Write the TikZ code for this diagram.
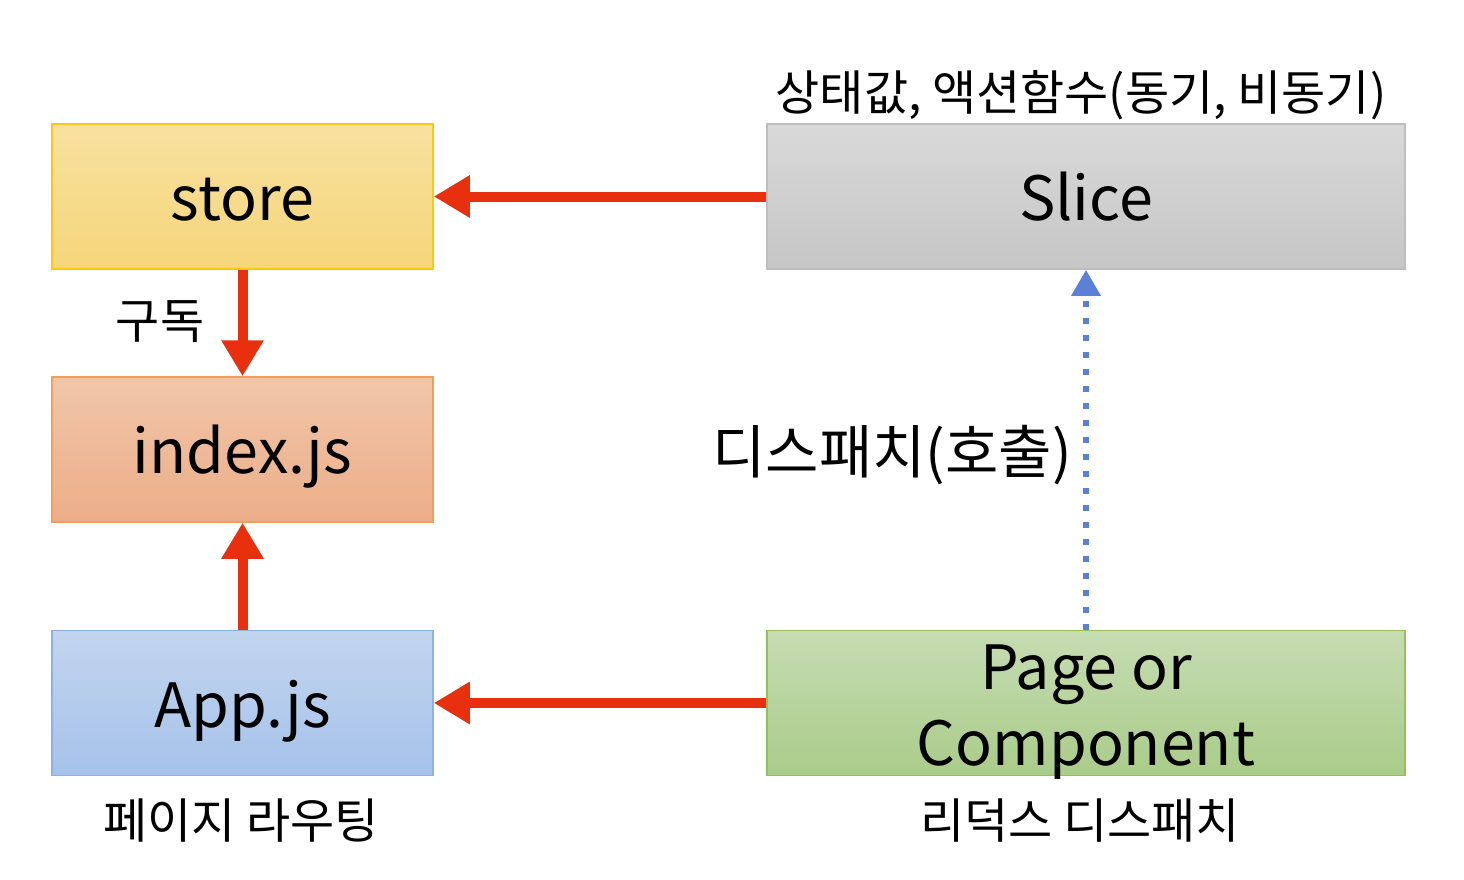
\documentclass[tikz,border=0pt]{standalone}
\usepackage{fontspec}
\setmainfont{Noto Sans CJK KR}
\usetikzlibrary{arrows.meta}
\definecolor{redar}{HTML}{E8300E}
\definecolor{bluear}{HTML}{5B80D6}
\definecolor{ydraw}{HTML}{FAC814}\definecolor{ytop}{HTML}{F8E1A0}\definecolor{ybot}{HTML}{F5D67A}
\definecolor{gdraw}{HTML}{BEBEBE}\definecolor{gtop}{HTML}{D9D9D9}\definecolor{gbot}{HTML}{C6C6C6}
\definecolor{odraw}{HTML}{F0A05A}\definecolor{otop}{HTML}{F0C6AA}\definecolor{obot}{HTML}{ECAE88}
\definecolor{bdraw}{HTML}{8CB2E4}\definecolor{btop}{HTML}{C2D5EE}\definecolor{bbot}{HTML}{A6C2EA}
\definecolor{vdraw}{HTML}{91C35A}\definecolor{vtop}{HTML}{C6DCB2}\definecolor{vbot}{HTML}{AACC8A}
\tikzset{
  box/.style={draw, line width=1.5pt, inner sep=0pt, align=center, font=\fontsize{61}{76}\selectfont, text height=55pt, text depth=7pt},
  twoline/.style={text height=124pt, text depth=0pt},
  wide/.style={minimum width=638pt, minimum height=145pt},
  narrow/.style={minimum width=381pt, minimum height=145pt},
  redarrow/.style={draw=redar, line width=10pt, -{Triangle[length=36pt,width=40pt]}},
  bluearrow/.style={draw=bluear, line width=6pt, dash pattern=on 6pt off 11pt, -{Triangle[length=26pt,width=28pt]}},
  lbl/.style={font=\fontsize{48}{56}\selectfont, inner sep=0pt}
}
\begin{document}
\begin{tikzpicture}[x=1pt,y=-1pt]
\useasboundingbox (0,0) rectangle (1464,880);
\node[box, narrow, draw=ydraw, top color=ytop, bottom color=ybot] (store) at (242.5,196.5) {store};
\node[box, wide, draw=gdraw, top color=gtop, bottom color=gbot] (slice) at (1086,196.5) {Slice};
\node[box, narrow, draw=odraw, top color=otop, bottom color=obot] (index) at (242.5,449.5) {index.js};
\node[box, narrow, draw=bdraw, top color=btop, bottom color=bbot] (app) at (242.5,703) {App.js};
\node[box, wide, twoline, draw=vdraw, top color=vtop, bottom color=vbot] (page) at (1086,703) {Page or\\Component};

\node[lbl, anchor=base] (lslice) at (1081,111) {상태값, 액션함수(동기, 비동기)};
\node[lbl, anchor=base] (lsub) at (160,338) {구독};
\node[lbl, font=\fontsize{58}{66}\selectfont, anchor=base] (ldisp) at (892,473) {디스패치(호출)};
\node[lbl, anchor=base] (lapp) at (241,838) {페이지 라우팅};
\node[lbl, anchor=base] (lpage) at (1080,838) {리덕스 디스패치};

\draw[redarrow] (slice.west) -- (store.east);
\draw[redarrow] (store.south) -- (index.north);
\draw[redarrow] (app.north) -- (index.south);
\draw[redarrow] (page.west) -- (app.east);
\draw[bluearrow] (page.north) -- (slice.south);
\end{tikzpicture}
\end{document}
